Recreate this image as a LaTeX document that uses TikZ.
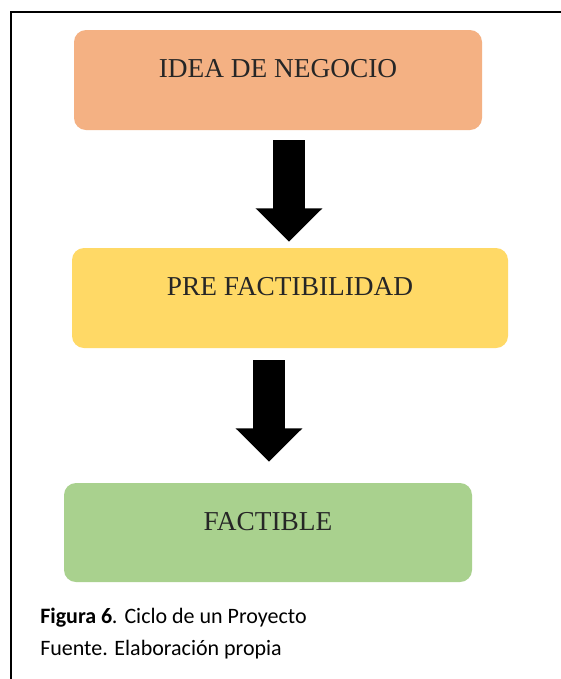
\documentclass[tikz,border=0pt]{standalone}
\usepackage{fontspec}
\setmainfont{Liberation Serif}
\newfontfamily\capfont{Carlito}
\usetikzlibrary{arrows.meta,calc}
\definecolor{boxorange}{HTML}{F4B183}
\definecolor{boxyellow}{HTML}{FFD966}
\definecolor{boxgreen}{HTML}{A9D18E}
\tikzset{
  stagebox/.style={rectangle, rounded corners=9pt, inner sep=0pt, draw=none,
    font=\fontsize{20.5pt}{24pt}\selectfont, text=black!85,
    text height=13.6pt, text depth=17.35pt},
  bigarrow/.style={line width=24.5pt, black,
    -{Triangle[length=25pt, width=48.5pt]}},
  captext/.style={anchor=base west, inner sep=0pt,
    font=\capfont\fontsize{16.5pt}{20pt}\selectfont}
}
\begin{document}
\begin{tikzpicture}[x=0.75pt,y=-0.75pt]
\useasboundingbox (0,0) rectangle (561,679);
\clip (0,0) rectangle (561,679);
\fill[white] (0,0) rectangle (561,679);
% outer frame (right and bottom sides lie outside the picture)
\draw[line width=1.9pt] (11,700) -- (11,12) -- (600,12);
% boxes
\node[stagebox, fill=boxorange, minimum width=306pt, minimum height=75pt]
  (b1) at (278,80) {IDEA DE NEGOCIO};
\node[stagebox, fill=boxyellow, minimum width=327pt, minimum height=75pt]
  (b2) at (290,298) {PRE FACTIBILIDAD};
\node[stagebox, fill=boxgreen, minimum width=306pt, minimum height=74.25pt]
  (b3) at (268,532.5) {FACTIBLE};
% arrows
\draw[bigarrow] ($(b1.south -| b2.north)+(-1,10)$) -- ($(b2.north)+(-1,-6)$);
\draw[bigarrow] ($(b2.south -| b3.north)+(1,12)$) -- ($(b3.north)+(1,-21)$);
% caption
\node[captext] (cap1) at (40,623) {\textbf{Figura 6}\textit{.} Ciclo de un Proyecto};
\node[captext] (cap2) at (40,655) {Fuente. Elaboración propia};
\end{tikzpicture}
\end{document}
